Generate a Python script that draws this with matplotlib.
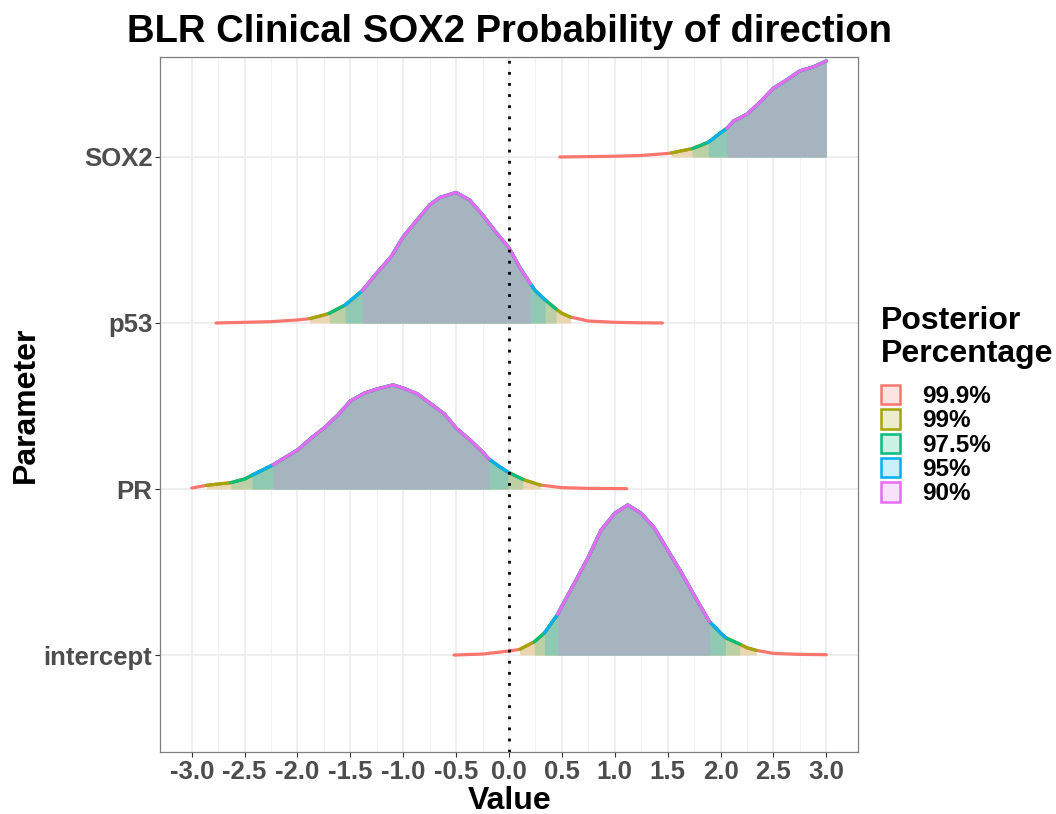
import numpy as np
import matplotlib.pyplot as plt
from matplotlib.patches import Patch
from matplotlib.colors import to_rgba

plt.rcParams['font.family'] = ['Liberation Sans', 'DejaVu Sans']

params = ['intercept', 'PR', 'p53', 'SOX2']
levels = ['99.9%', '99%', '97.5%', '95%', '90%']
line_colors = ['#F8766D', '#A3A500', '#00BF7D', '#00B0F6', '#E76BF3']
band_fills = [None, '#ead6b0', '#bcd0a5', '#8fc9b3', '#a6b4c0']

# posterior density traces
# (height given as a fraction of the spacing between parameter rows)
intercept_x = [-0.52, -0.25, 0.0, 0.1, 0.24, 0.335, 0.46, 0.5, 0.619, 0.75, 0.871, 1.0, 1.123,
               1.25, 1.375, 1.5, 1.627, 1.75, 1.895, 2.0, 2.046, 2.18, 2.25, 2.34, 2.5, 2.75, 3.0]
intercept_d = [0.0, 0.006, 0.024, 0.034, 0.080, 0.133, 0.245, 0.295, 0.434, 0.590, 0.753, 0.854, 0.904,
               0.854, 0.765, 0.633, 0.500, 0.361, 0.202, 0.133, 0.105, 0.066, 0.044, 0.028, 0.010, 0.004, 0.002]

PR_x = [-3.0, -2.86, -2.75, -2.63, -2.5, -2.43, -2.23, -2.0, -1.87, -1.75, -1.618, -1.5, -1.366, -1.25,
        -1.098, -1.0, -0.862, -0.75, -0.61, -0.5, -0.357, -0.25, -0.19, -0.1, -0.011, 0.13, 0.295, 0.5,
        0.75, 1.113]
PR_d = [0.006, 0.022, 0.030, 0.038, 0.060, 0.083, 0.146, 0.235, 0.307, 0.367, 0.446, 0.530, 0.578, 0.602,
        0.627, 0.608, 0.572, 0.518, 0.452, 0.367, 0.289, 0.223, 0.181, 0.139, 0.102, 0.058, 0.024, 0.008,
        0.004, 0.002]

p53_x = [-2.77, -2.5, -2.25, -2.0, -1.885, -1.75, -1.70, -1.55, -1.39, -1.25, -1.114, -1.0, -0.909, -0.75,
         -0.657, -0.5, -0.373, -0.25, -0.125, 0.0, 0.1, 0.203, 0.25, 0.342, 0.446, 0.5, 0.58, 0.75, 1.0,
         1.25, 1.45]
p53_d = [0.0, 0.004, 0.008, 0.018, 0.026, 0.048, 0.058, 0.108, 0.193, 0.301, 0.400, 0.520, 0.590, 0.711,
         0.755, 0.786, 0.741, 0.651, 0.548, 0.452, 0.337, 0.235, 0.193, 0.139, 0.084, 0.058, 0.036, 0.012,
         0.004, 0.001, 0.0]

SOX2_x = [0.48, 0.75, 1.0, 1.25, 1.5, 1.533, 1.625, 1.73, 1.80, 1.885, 2.0, 2.06, 2.125, 2.25, 2.375,
          2.5, 2.625, 2.75, 2.875, 3.0]
SOX2_d = [0.0, 0.002, 0.004, 0.009, 0.021, 0.024, 0.036, 0.050, 0.066, 0.089, 0.145, 0.173, 0.217, 0.257,
          0.331, 0.414, 0.464, 0.518, 0.542, 0.578]

# interval bounds, ordered 99.9%, 99%, 97.5%, 95%, 90%
intercept_lo = [-0.52, 0.1, 0.24, 0.335, 0.46]
intercept_hi = [3.0, 2.34, 2.18, 2.046, 1.895]
PR_lo = [-3.0, -2.86, -2.63, -2.43, -2.23]
PR_hi = [1.113, 0.295, 0.13, -0.011, -0.19]
p53_lo = [-2.77, -1.885, -1.70, -1.55, -1.39]
p53_hi = [1.45, 0.58, 0.446, 0.342, 0.203]
SOX2_lo = [0.48, 1.533, 1.73, 1.885, 2.06]
SOX2_hi = [3.0, 3.0, 3.0, 3.0, 3.0]

traces = {
    'intercept': (intercept_x, intercept_d, intercept_lo, intercept_hi),
    'PR': (PR_x, PR_d, PR_lo, PR_hi),
    'p53': (p53_x, p53_d, p53_lo, p53_hi),
    'SOX2': (SOX2_x, SOX2_d, SOX2_lo, SOX2_hi),
}

fig = plt.figure(figsize=(10.56, 8.14), dpi=100)
ax = fig.add_axes([160 / 1056, 1 - 752 / 814, 698 / 1056, 695 / 814])

for i, name in enumerate(params):
    x, d, lo, hi = traces[name]
    x = np.array(x)
    d = np.array(d)
    base = i + 1
    for k in range(len(levels)):
        m = (x >= lo[k] - 1e-9) & (x <= hi[k] + 1e-9)
        if band_fills[k] is not None:
            ax.fill_between(x[m], base, base + d[m], color=band_fills[k], lw=0, zorder=2)
    for k in range(len(levels)):
        m = (x >= lo[k] - 1e-9) & (x <= hi[k] + 1e-9)
        ax.plot(x[m], base + d[m], color=line_colors[k], lw=2.3, zorder=3,
                solid_capstyle='round', solid_joinstyle='round')

ax.axvline(0, color='black', lw=2.0, ls=(0, (1, 3)), zorder=4)

ax.set_xlim(-3.3, 3.3)
ax.set_ylim(0.416, 4.602)
xt = np.arange(-3.0, 3.01, 0.5)
ax.set_xticks(xt)
ax.set_xticklabels(['%.1f' % v for v in xt])
ax.set_xticks(np.arange(-2.75, 3.0, 0.5), minor=True)
ax.set_yticks(range(1, len(params) + 1))
ax.set_yticklabels(params)

ax.grid(True, which='major', color='#ebebeb', lw=1.1, zorder=0)
ax.grid(True, which='minor', axis='x', color='#f2f2f2', lw=0.8, zorder=0)
ax.set_axisbelow(True)
for s in ax.spines.values():
    s.set_color('#7f7f7f')
    s.set_linewidth(0.9)
ax.tick_params(which='major', length=3.5, width=0.8, color='#333333', pad=2)
ax.tick_params(which='minor', length=0)
for lab in ax.get_xticklabels() + ax.get_yticklabels():
    lab.set_fontsize(18.5)
    lab.set_fontweight('bold')
    lab.set_color('#4d4d4d')

fig.text(509.5 / 1056, 1 - 42 / 814, 'BLR Clinical SOX2 Probability of direction',
         fontsize=27.5, fontweight='bold', ha='center', va='baseline')
fig.text(509.5 / 1056, 1 - 809 / 814, 'Value', fontsize=23, fontweight='bold',
         ha='center', va='baseline')
fig.text(26 / 1056, 1 - 405 / 814, 'Parameter', fontsize=23, fontweight='bold',
         ha='center', va='center', rotation=90)

# legend title set as plain text so the gap to the keys can match
fig.text(881 / 1056, 1 - 329 / 814, 'Posterior', fontsize=23, fontweight='bold',
         ha='left', va='baseline')
fig.text(881 / 1056, 1 - 362 / 814, 'Percentage', fontsize=23, fontweight='bold',
         ha='left', va='baseline')

handles = [Patch(facecolor=to_rgba(c, 0.2), edgecolor=c, linewidth=1.8) for c in line_colors]
leg = fig.legend(handles, levels, loc='upper left',
                 bbox_to_anchor=(881 / 1056, 1 - 385 / 814), frameon=False,
                 prop={'weight': 'bold', 'size': 17.5},
                 handlelength=0.8, handleheight=0.85,
                 handletextpad=0.9, labelspacing=0.05, borderpad=0, borderaxespad=0)

fig.savefig('out.png', dpi=100)
